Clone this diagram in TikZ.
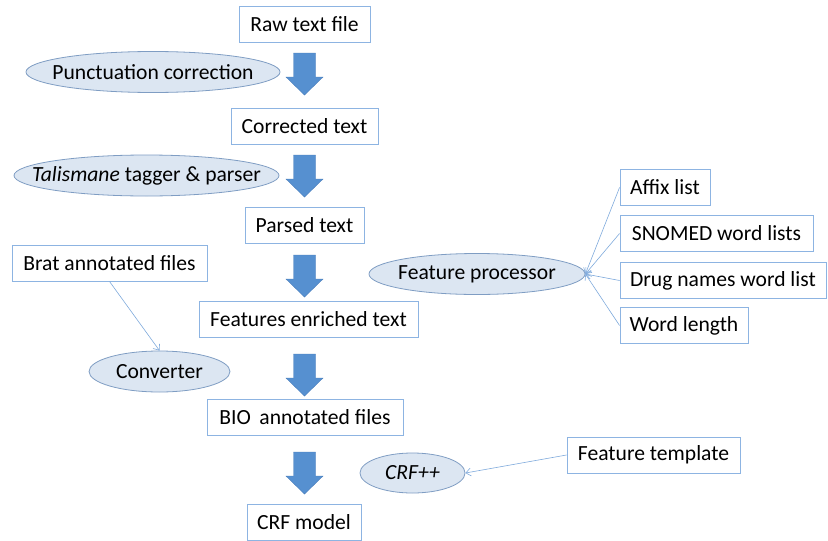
\documentclass[tikz,border=0pt]{standalone}
\usepackage{fontspec}
\setmainfont{Carlito}
\usetikzlibrary{shapes.geometric,arrows.meta}
\definecolor{boxline}{HTML}{8DB4E2}
\definecolor{ellfill}{HTML}{DCE6F2}
\definecolor{ellline}{HTML}{7F9DC3}
\definecolor{arrfill}{HTML}{5690D0}
\definecolor{arrline}{HTML}{4A7EBB}
\definecolor{conn}{HTML}{7FAADC}
\newcommand{\ovaltext}[1]{\makebox[0pt]{#1}}
\begin{document}
\begin{tikzpicture}[x=1pt,y=-1pt,
  every node/.style={font=\fontsize{21.6}{24}\selectfont},
  rbox/.style={draw=boxline,line width=0.9pt,fill=white,minimum height=36pt,inner xsep=0pt,inner ysep=0pt,anchor=center},
  oval/.style={ellipse,draw=ellline,line width=0.8pt,fill=ellfill,inner sep=0pt,minimum height=41pt},
  link/.style={draw=conn,line width=0.6pt,-{Straight Barb[length=5pt,width=8pt]}},
  bigarrow/.pic={\fill[arrfill,draw=arrline,line width=0.4pt] (-11,0) -- (11,0) -- (11,24) -- (18.5,24) -- (0,42) -- (-18.5,24) -- (-11,24) -- cycle;}
]
\useasboundingbox (0,0) rectangle (828,541);
% main column
\node[rbox,minimum width=131pt] (raw) at (304.5,24.5) {Raw text file};
\node[rbox,minimum width=147pt] (corr) at (304.5,126) {Corrected text};
\node[rbox,minimum width=119pt] (parsed) at (304.5,225) {Parsed text};
\node[rbox,minimum width=219pt] (feat) at (308.5,319) {Features enriched text};
\node[rbox,minimum width=196pt] (bio) at (305,417) {BIO\, annotated files};
\node[rbox,minimum width=114pt] (crf) at (304,522) {CRF model};
% process ovals
\node[oval,minimum width=254pt] (punct) at (153,72) {\ovaltext{Punctuation correction}};
\node[oval,minimum width=265pt] (tali) at (146.5,175.5) {\ovaltext{\textit{Talismane} tagger \& parser}};
\node[oval,minimum width=216pt] (fproc) at (477,274) {\ovaltext{Feature processor}};
\node[oval,minimum width=141pt] (conv) at (159.5,371.5) {\ovaltext{Converter}};
\node[oval,minimum width=105pt,minimum height=40pt] (crfpp) at (412.5,473) {\ovaltext{\textit{CRF++}}};
% side inputs
\node[rbox,minimum width=195pt] (brat) at (109.5,263) {Brat annotated files};
\node[rbox,minimum width=90pt] (affix) at (665,187.5) {Affix list};
\node[rbox,minimum width=193pt] (snomed) at (716.5,233.5) {SNOMED word lists};
\node[rbox,minimum width=206pt] (drug) at (723,280.5) {Drug names word list};
\node[rbox,minimum width=128pt] (wlen) at (684,325.5) {Word length};
\node[rbox,minimum width=173pt] (ftemp) at (653.5,455) {Feature template};
% block arrows
\pic at (304.5,53) {bigarrow};
\pic at (304.5,155) {bigarrow};
\pic at (304.5,255) {bigarrow};
\pic at (304.5,354) {bigarrow};
\pic at (304.5,452) {bigarrow};
% connectors
\coordinate (fpin) at (fproc.east);
\draw[link] (affix.west) -- (fpin);
\draw[link] (snomed.west) -- (fpin);
\draw[link] (drug.west) -- (fpin);
\draw[link] (wlen.west) -- (fpin);
\draw[link] (brat.south) -- (conv.north);
\draw[link] (ftemp.west) -- (crfpp.east);
\end{tikzpicture}
\end{document}
